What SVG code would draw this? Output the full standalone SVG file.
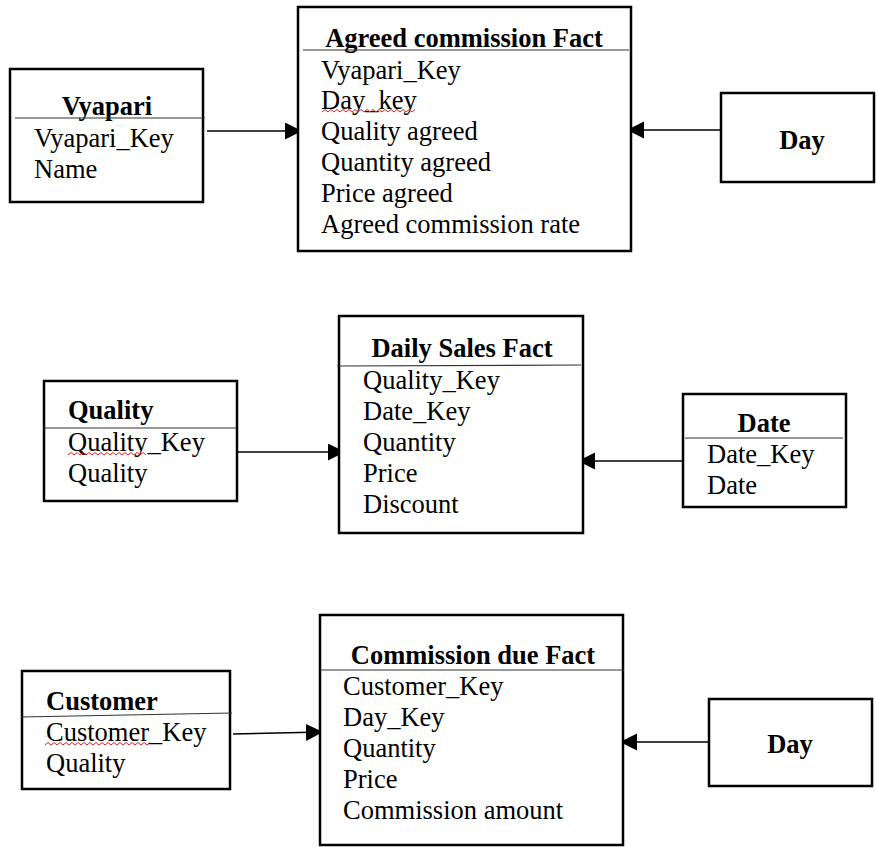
<svg xmlns="http://www.w3.org/2000/svg" width="876" height="847" viewBox="0 0 876 847">
  <style>
    .box { fill: #ffffff; stroke: #000000; stroke-width: 2.5; }
    .sep { stroke: #333333; stroke-width: 1.2; fill: none; }
    .title { font-family: "Liberation Serif", "Times New Roman", serif; font-size: 26.5px; font-weight: bold; fill: #000000; }
    .attr { font-family: "Liberation Serif", "Times New Roman", serif; font-size: 26.5px; fill: #000000; }
    .mid { text-anchor: middle; }
    .link { stroke: #000000; stroke-width: 1.5; fill: none; marker-end: url(#arrow); }
    .spell { stroke: #e02020; stroke-width: 1; fill: none; }
  </style>
  <defs>
    <marker id="arrow" markerUnits="userSpaceOnUse" markerWidth="19" markerHeight="18" refX="17" refY="8.5" orient="auto">
      <path d="M0,0 L17,8.5 L0,17 Z" fill="#000000"/>
    </marker>
  </defs>
  <rect width="876" height="847" fill="#ffffff"/>

  <!-- Connectors -->
  <g id="connectors">
    <line class="link" x1="207" y1="131" x2="302" y2="131"/>
    <line class="link" x1="721" y1="130" x2="627" y2="130"/>
    <line class="link" x1="237" y1="452" x2="345" y2="452"/>
    <line class="link" x1="683" y1="461" x2="578" y2="461"/>
    <line class="link" x1="233" y1="734" x2="323" y2="732"/>
    <line class="link" x1="709" y1="742" x2="620" y2="742"/>
  </g>

  <!-- Vyapari dimension -->
  <g id="vyapari">
    <rect class="box" x="10" y="69" width="193" height="133"/>
    <text class="title mid" x="107" y="115">Vyapari</text>
    <line class="sep" x1="15" y1="118" x2="205" y2="118"/>
    <text class="attr" x="34" y="147">Vyapari_Key</text>
    <text class="attr" x="34" y="178">Name</text>
  </g>

  <!-- Agreed commission fact -->
  <g id="agreed-commission-fact">
    <rect class="box" x="298" y="7" width="333" height="244"/>
    <text class="title mid" x="464" y="47">Agreed commission Fact</text>
    <line class="sep" x1="303" y1="50" x2="629" y2="50"/>
    <text class="attr" x="321" y="79">Vyapari_Key</text>
    <text class="attr" x="321" y="109">Day_key</text>
    <path class="spell" d="M322,112 l3,-2.5 l3,2.5 l3,-2.5 l3,2.5 l3,-2.5 l3,2.5 l3,-2.5 l3,2.5 l3,-2.5 l3,2.5 l3,-2.5 l3,2.5 l3,-2.5 l3,2.5 l3,-2.5 l3,2.5 l3,-2.5 l3,2.5 l3,-2.5 l3,2.5 l3,-2.5 l3,2.5 l3,-2.5 l3,2.5 l3,-2.5 l3,2.5 l3,-2.5 l3,2.5 l3,-2.5 l3,2.5 l3,-2.5"/>
    <text class="attr" x="321" y="140">Quality agreed</text>
    <text class="attr" x="321" y="171">Quantity agreed</text>
    <text class="attr" x="321" y="202">Price agreed</text>
    <text class="attr" x="321" y="233">Agreed commission rate</text>
  </g>

  <!-- Day dimension (top) -->
  <g id="day-top">
    <rect class="box" x="721" y="93" width="153" height="89"/>
    <text class="title mid" x="802" y="149">Day</text>
  </g>

  <!-- Quality dimension -->
  <g id="quality">
    <rect class="box" x="44" y="381" width="193" height="120"/>
    <text class="title" x="68" y="419">Quality</text>
    <line class="sep" x1="44" y1="428" x2="236" y2="428"/>
    <text class="attr" x="68" y="451">Quality_Key</text>
    <path class="spell" d="M68,455 l3,-2.5 l3,2.5 l3,-2.5 l3,2.5 l3,-2.5 l3,2.5 l3,-2.5 l3,2.5 l3,-2.5 l3,2.5 l3,-2.5 l3,2.5 l3,-2.5 l3,2.5 l3,-2.5 l3,2.5 l3,-2.5 l3,2.5 l3,-2.5 l3,2.5 l3,-2.5 l3,2.5 l3,-2.5 l3,2.5 l3,-2.5 l3,2.5"/>
    <text class="attr" x="68" y="482">Quality</text>
  </g>

  <!-- Daily sales fact -->
  <g id="daily-sales-fact">
    <rect class="box" x="339" y="316" width="244" height="217"/>
    <text class="title mid" x="462" y="357">Daily Sales Fact</text>
    <line class="sep" x1="337" y1="366" x2="581" y2="365"/>
    <text class="attr" x="363" y="389">Quality_Key</text>
    <text class="attr" x="363" y="420">Date_Key</text>
    <text class="attr" x="363" y="451">Quantity</text>
    <text class="attr" x="363" y="482">Price</text>
    <text class="attr" x="363" y="513">Discount</text>
  </g>

  <!-- Date dimension -->
  <g id="date">
    <rect class="box" x="683" y="394" width="163" height="113"/>
    <text class="title mid" x="764" y="432">Date</text>
    <line class="sep" x1="685" y1="438" x2="843" y2="438"/>
    <text class="attr" x="707" y="463">Date_Key</text>
    <text class="attr" x="707" y="494">Date</text>
  </g>

  <!-- Customer dimension -->
  <g id="customer">
    <rect class="box" x="22" y="671" width="208" height="118"/>
    <text class="title" x="46" y="710">Customer</text>
    <line class="sep" x1="21" y1="717" x2="232" y2="713"/>
    <text class="attr" x="46" y="741">Customer_Key</text>
    <path class="spell" d="M45,745 l3,-2.5 l3,2.5 l3,-2.5 l3,2.5 l3,-2.5 l3,2.5 l3,-2.5 l3,2.5 l3,-2.5 l3,2.5 l3,-2.5 l3,2.5 l3,-2.5 l3,2.5 l3,-2.5 l3,2.5 l3,-2.5 l3,2.5 l3,-2.5 l3,2.5 l3,-2.5 l3,2.5 l3,-2.5 l3,2.5 l3,-2.5 l3,2.5 l3,-2.5 l3,2.5 l3,-2.5 l3,2.5 l3,-2.5 l3,2.5 l3,-2.5 l3,2.5 l3,-2.5"/>
    <text class="attr" x="46" y="772">Quality</text>
  </g>

  <!-- Commission due fact -->
  <g id="commission-due-fact">
    <rect class="box" x="320" y="615" width="303" height="230"/>
    <text class="title mid" x="473" y="664">Commission due Fact</text>
    <line class="sep" x1="320" y1="670" x2="624" y2="670"/>
    <text class="attr" x="343" y="695">Customer_Key</text>
    <text class="attr" x="343" y="726">Day_Key</text>
    <text class="attr" x="343" y="757">Quantity</text>
    <text class="attr" x="343" y="788">Price</text>
    <text class="attr" x="343" y="819">Commission amount</text>
  </g>

  <!-- Day dimension (bottom) -->
  <g id="day-bottom">
    <rect class="box" x="709" y="699" width="163" height="87"/>
    <text class="title mid" x="790" y="753">Day</text>
  </g>
</svg>
